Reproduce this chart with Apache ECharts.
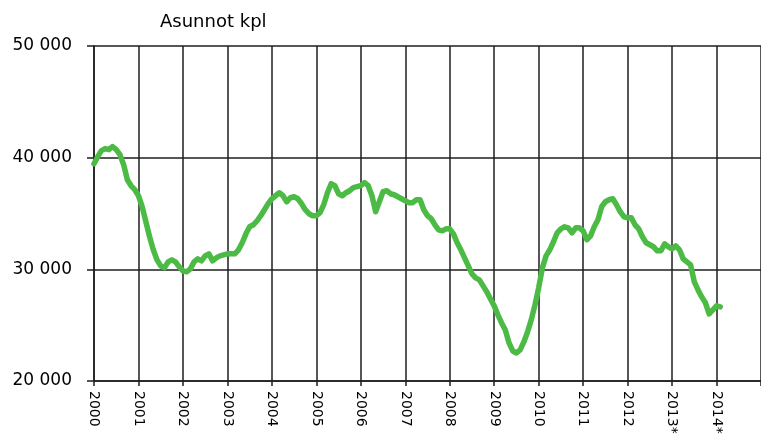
<!DOCTYPE html>
<html>
<head>
<meta charset="utf-8">
<script src="https://cdn.jsdelivr.net/npm/echarts@6/dist/echarts.min.js"></script>
<style>
html,body{margin:0;padding:0;background:#fff;}
#chart{width:761px;height:447px;}
</style>
</head>
<body>
<div id="chart"></div>
<script>
// Monthly values, January 2000 – February 2014
var startYear = 2000;
var values = [
  // 2000
  39460, 40090, 40630, 40810, 40720, 40990, 40720, 40270, 39370, 38020, 37480, 37130,
  // 2001
  36590, 35610, 34260, 32920, 31750, 30850, 30310, 30130, 30670, 30850, 30670, 30220,
  // 2002
  29870, 29780, 30040, 30670, 30940, 30760, 31210, 31390, 30760, 31030, 31210, 31300,
  // 2003
  31390, 31390, 31390, 31750, 32380, 33180, 33810, 33990, 34350, 34800, 35340, 35880,
  // 2004
  36320, 36590, 36860, 36590, 36050, 36410, 36500, 36320, 35880, 35340, 34980, 34800,
  // 2005
  34800, 35070, 35790, 36860, 37670, 37490, 36770, 36590, 36860, 37040, 37310, 37400,
  // 2006
  37490, 37760, 37490, 36590, 35160, 36050, 36950, 37040, 36770, 36680, 36500, 36320,
  // 2007
  36140, 35970, 35970, 36230, 36230, 35340, 34800, 34530, 33990, 33540, 33450, 33630,
  // 2008
  33630, 33180, 32380, 31750, 31030, 30310, 29600, 29240, 29060, 28520, 27980, 27350,
  // 2009
  26730, 25920, 25200, 24570, 23410, 22690, 22510, 22780, 23500, 24390, 25470, 26820,
  // 2010
  28340, 30130, 31210, 31750, 32470, 33270, 33630, 33810, 33720, 33270, 33720, 33720,
  // 2011
  33450, 32650, 33000, 33810, 34440, 35610, 36050, 36230, 36320, 35790, 35160, 34710,
  // 2012
  34620, 34620, 33990, 33630, 32920, 32380, 32200, 32020, 31660, 31660, 32290, 32020,
  // 2013
  31840, 32110, 31750, 30940, 30670, 30400, 28880, 28160, 27530, 27000, 26010, 26370,
  // 2014
  26730, 26640
];
var yTicks = [20000, 30000, 40000, 50000];
var provisionalYears = [2013, 2014];
var titleText = 'Asunnot kpl';

var seriesData = values.map(function (v, i) { return [startYear + i / 12, v]; });

function fmtThousands(v) {
  return String(v).replace(/\B(?=(\d{3})+(?!\d))/g, ' ');
}

var chart = echarts.init(document.getElementById('chart'), null, {renderer: 'canvas'});
var gridColor = '#1e1e1e';
chart.setOption({
  animation: false,
  backgroundColor: '#ffffff',
  textStyle: {fontFamily: 'DejaVu Sans'},
  title: {
    text: titleText,
    left: 155,
    top: 8,
    textStyle: {fontFamily: 'DejaVu Sans', fontSize: 18, fontWeight: 'normal', color: '#000'}
  },
  grid: {left: 94, top: 46, width: 675, height: 335, containLabel: false},
  xAxis: {
    type: 'value',
    min: 2000,
    max: 2015,
    interval: 1,
    axisLine: {show: true, lineStyle: {color: gridColor, width: 1.5}},
    axisTick: {show: true, inside: false, length: 5, lineStyle: {color: gridColor, width: 1.5}},
    splitLine: {show: true, lineStyle: {color: gridColor, width: 1.5}},
    axisLabel: {
      rotate: -90,
      margin: 10,
      fontSize: 14,
      fontFamily: 'DejaVu Sans',
      color: '#000',
      formatter: function (v) {
        if (v >= 2015) return '';
        return provisionalYears.indexOf(v) >= 0 ? v + '*' : String(v);
      }
    }
  },
  yAxis: {
    type: 'value',
    min: yTicks[0],
    max: yTicks[yTicks.length - 1],
    interval: yTicks[1] - yTicks[0],
    axisLine: {show: true, lineStyle: {color: gridColor, width: 1.5}},
    axisTick: {show: true, inside: false, length: 7, lineStyle: {color: gridColor, width: 1.5}},
    splitLine: {show: true, lineStyle: {color: gridColor, width: 1.5}},
    axisLabel: {
      margin: 22,
      fontSize: 17,
      fontFamily: 'DejaVu Sans',
      color: '#000',
      formatter: fmtThousands
    }
  },
  series: [{
    type: 'line',
    data: seriesData,
    showSymbol: false,
    symbol: 'none',
    smooth: false,
    lineStyle: {color: '#4cbb45', width: 5.5, cap: 'round', join: 'round'},
    z: 5
  }]
});
</script>
</body>
</html>
